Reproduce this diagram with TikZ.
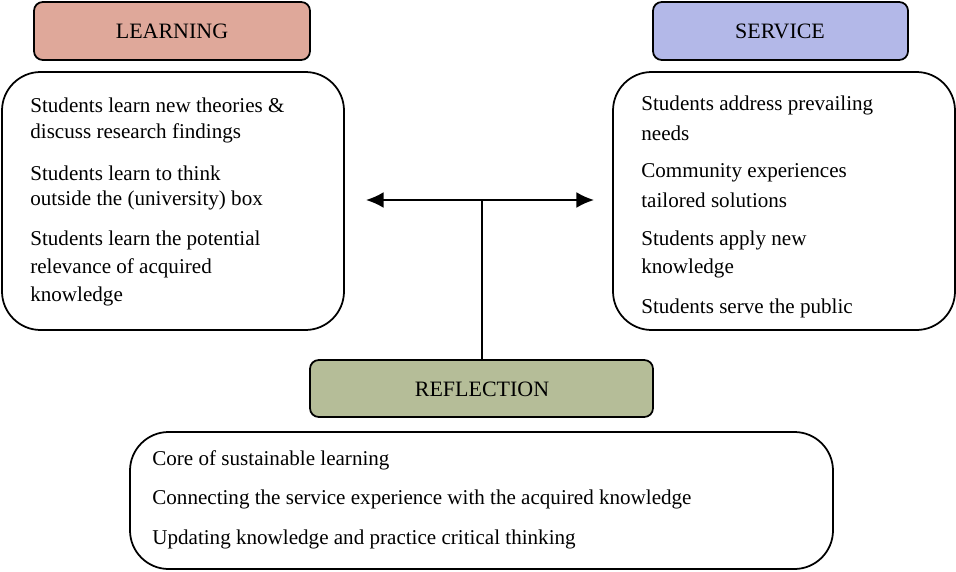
\documentclass[tikz,border=0pt]{standalone}
\usepackage{fontspec}
\setmainfont{Liberation Serif}
\usetikzlibrary{arrows.meta}
\definecolor{learnc}{HTML}{DFA89A}
\definecolor{servc}{HTML}{B3B8E8}
\definecolor{reflc}{HTML}{B5BD98}
\tikzset{
 hdr/.style={draw=black,line width=1pt,rounded corners=5pt},
 hdt/.style={font=\fontsize{12.5}{14}\selectfont},
 cbox/.style={draw=black,line width=1pt,rounded corners=22pt},
 ln/.style={anchor=west,inner sep=0pt,font=\fontsize{12}{14}\selectfont},
 arr/.style={line width=1pt,-{Latex[length=10pt,width=9pt]}}
}
\begin{document}
\begin{tikzpicture}[x=0.02cm,y=-0.02cm]
\useasboundingbox (0,0) rectangle (956,571);
\draw[hdr,fill=learnc] (34,2) rectangle (310,60);
\node[hdt] (lh) at (172,31) {LEARNING};
\draw[hdr,fill=servc] (653,2) rectangle (908,60);
\node[hdt] (sh) at (780,31) {SERVICE};
\draw[hdr,fill=reflc] (310,360) rectangle (653,417);
\node[hdt] (rh) at (482,389) {REFLECTION};
\draw[cbox] (2,72) rectangle (344,330);
\draw[cbox] (613,72) rectangle (955,330);
\draw[cbox] (130,432) rectangle (833,569);
\node[ln] (l1) at (30,105) {Students learn new theories \&};
\node[ln] (l2) at (30,133) {discuss research findings};
\node[ln] (l3) at (30,173) {Students learn to think};
\node[ln] (l4) at (30,200) {outside the (university) box};
\node[ln] (l5) at (30,240) {Students learn the potential};
\node[ln] (l6) at (30,268) {relevance of acquired};
\node[ln] (l7) at (30,296) {knowledge};
\node[ln] (s1) at (641,105) {Students address prevailing};
\node[ln] (s2) at (641,133) {needs};
\node[ln] (s3) at (641,173) {Community experiences};
\node[ln] (s4) at (641,200) {tailored solutions};
\node[ln] (s5) at (641,240) {Students apply new};
\node[ln] (s6) at (641,268) {knowledge};
\node[ln] (s7) at (641,308) {Students serve the public};
\node[ln] (r1) at (152,460) {Core of sustainable learning};
\node[ln] (r2) at (152,499) {Connecting the service experience with the acquired knowledge};
\node[ln] (r3) at (152,539) {Updating knowledge and practice critical thinking};
\coordinate (j) at (482,200);
\coordinate (rt) at (482,360);
\coordinate (al) at (366,200);
\coordinate (ar) at (594,200);
\draw[line width=1pt] (rt) -- (j);
\draw[arr] (j) -- (al);
\draw[arr] (j) -- (ar);
\end{tikzpicture}
\end{document}
